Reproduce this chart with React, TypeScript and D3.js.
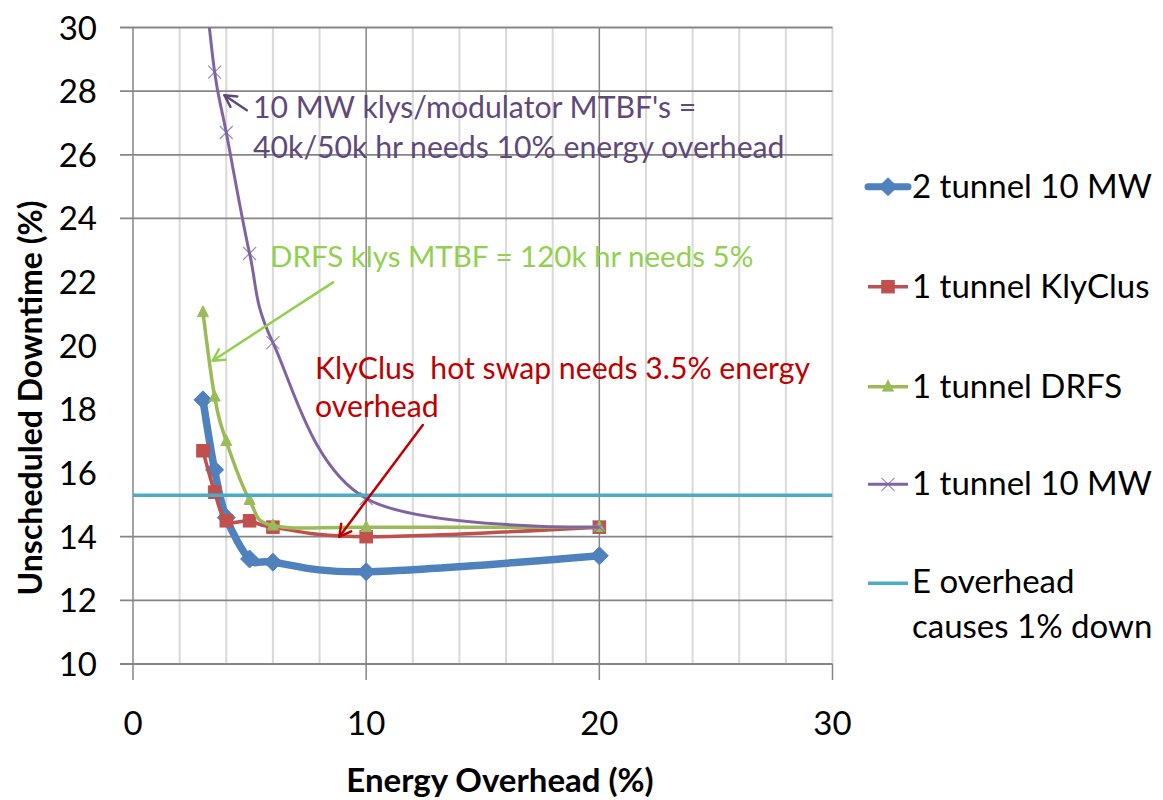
import React from 'react';
import * as d3 from 'd3';

// ---------- data ----------
const energyOverhead = [3, 3.5, 4, 5, 6, 10, 20];
const twoTunnel10MW = [18.3, 16.1, 14.6, 13.3, 13.2, 12.9, 13.4];
const oneTunnelKlyClus = [16.7, 15.4, 14.5, 14.5, 14.3, 14.0, 14.3];
const oneTunnelDRFS = [21.05, 18.4, 17.0, 15.15, 14.35, 14.3, 14.3];
const oneTunnel10MW = [32.0, 28.6, 26.7, 22.9, 20.1, 15.2, 14.3];
const eOverheadX = [0, 30];
const eOverheadY = [15.3, 15.3];

const seriesNames = ['2 tunnel 10 MW', '1 tunnel KlyClus', '1 tunnel DRFS', '1 tunnel 10 MW'];
const eOverheadName = ['E overhead', 'causes 1% down'];

const xTicks = [0, 10, 20, 30];
const xMinorGrid = [2, 4, 6, 8, 12, 14, 16, 18, 22, 24, 26, 28, 30];
const yTicks = [10, 12, 14, 16, 18, 20, 22, 24, 26, 28, 30];
const yGridShown = [10, 12, 14, 24, 26, 28, 30];

// annotations (data units)
const purpleNote = ['10 MW klys/modulator MTBF\'s =', '40k/50k hr needs 10% energy overhead'];
const purpleNoteAt = { x: 5.15, y: [27.15, 25.9] };
const purpleArrow = { from: [4.88, 27.4], to: [3.92, 27.87] };
const greenNote = 'DRFS klys MTBF = 120k hr needs 5%';
const greenNoteAt = { x: 5.88, y: 22.47 };
const greenArrow = { from: [8.58, 21.99], to: [3.42, 19.53] };
const redNote = ['KlyClus\u00a0\u00a0hot swap needs 3.5% energy', 'overhead'];
const redNoteAt = { x: 7.81, y: [18.97, 17.75] };
const redArrow = { from: [12.43, 17.51], to: [8.85, 14.0] };

// ---------- styling ----------
const FONT = "Lato, 'Open Sans', sans-serif";
const BLUE = '#4F81BD';
const RED = '#C0504D';
const GREEN = '#9BBB59';
const PURPLE = '#8064A2';
const CYAN = '#4BACC6';
const GRID_DARK = '#868686';
const GRID_LIGHT = '#D9D9D9';

const W = 1163;
const H = 800;
const left = 133;
const right = 832.5;
const top = 27.5;
const bottom = 664;

const x = d3.scaleLinear().domain([0, 30]).range([left, right]);
const y = d3.scaleLinear().domain([10, 30]).range([bottom, top]);

const lineGen = d3
  .line<[number, number]>()
  .x((d) => x(d[0]))
  .y((d) => y(d[1]))
  .curve(d3.curveCatmullRom.alpha(0));

const straight = d3
  .line<[number, number]>()
  .x((d) => x(d[0]))
  .y((d) => y(d[1]));

const zip = (xs: number[], ys: number[]) => xs.map((v, i) => [v, ys[i]] as [number, number]);

function Diamond({ cx, cy, r, color }: any) {
  return <path d={`M${cx},${cy - r}L${cx + r},${cy}L${cx},${cy + r}L${cx - r},${cy}Z`} fill={color} stroke={color} />;
}
function Square({ cx, cy, s, color }: any) {
  return <rect x={cx - s / 2} y={cy - s / 2} width={s} height={s} fill={color} stroke={color} />;
}
function Tri({ cx, cy, s, color }: any) {
  const h = s;
  return (
    <path
      d={`M${cx},${cy - h * 0.6}L${cx + s / 2},${cy + h * 0.4}L${cx - s / 2},${cy + h * 0.4}Z`}
      fill={color}
      stroke={color}
    />
  );
}
function XMark({ cx, cy, r, color }: any) {
  return (
    <path
      d={`M${cx - r},${cy - r}L${cx + r},${cy + r}M${cx - r},${cy + r}L${cx + r},${cy - r}`}
      stroke={color}
      strokeWidth={1.2}
      fill="none"
      opacity={0.75}
    />
  );
}

function Arrow({ from, to, color, width }: any) {
  const x1 = x(from[0]);
  const y1 = y(from[1]);
  const x2 = x(to[0]);
  const y2 = y(to[1]);
  const ang = Math.atan2(y2 - y1, x2 - x1);
  const len = 13;
  const spread = 0.5;
  const ax = x2 - len * Math.cos(ang - spread);
  const ay = y2 - len * Math.sin(ang - spread);
  const bx = x2 - len * Math.cos(ang + spread);
  const by = y2 - len * Math.sin(ang + spread);
  return (
    <g stroke={color} strokeWidth={width} fill="none" strokeLinecap="round" strokeLinejoin="round">
      <line x1={x1} y1={y1} x2={x2} y2={y2} />
      <path d={`M${ax},${ay}L${x2},${y2}L${bx},${by}`} />
    </g>
  );
}

export default function App() {
  const blue = zip(energyOverhead, twoTunnel10MW);
  const red = zip(energyOverhead, oneTunnelKlyClus);
  const green = zip(energyOverhead, oneTunnelDRFS);
  const purple = zip(energyOverhead, oneTunnel10MW);
  const cyan = zip(eOverheadX, eOverheadY);

  const legendX0 = 868;
  const legendX1 = 908;
  const legendMid = (legendX0 + legendX1) / 2;
  const legendTextX = 912;
  const legendRows = [186.7, 286.7, 386.7, 484.3, 583.3];
  const fs = 33;
  const noteFs = 30.2;

  return (
    <svg
      width={W}
      height={H}
      style={{ position: 'absolute', left: 0, top: 0, background: '#fff' }}
      fontFamily={FONT}
    >
      <defs>
        <clipPath id="plot">
          <rect x={left} y={top} width={right - left} height={bottom - top} />
        </clipPath>
      </defs>
      <rect x={0} y={0} width={W} height={H} fill="#fff" />

      {/* minor vertical gridlines */}
      {xMinorGrid.map((v) => (
        <line key={'mv' + v} x1={x(v)} x2={x(v)} y1={top} y2={bottom} stroke={GRID_LIGHT} strokeWidth={2} />
      ))}
      {/* major vertical gridlines + ticks */}
      {xTicks.map((v) => (
        <line
          key={'Mv' + v}
          x1={x(v)}
          x2={x(v)}
          y1={v === 0 || v === 30 ? bottom : top}
          y2={bottom + 16}
          stroke={GRID_DARK}
          strokeWidth={1.5}
        />
      ))}
      {/* horizontal gridlines */}
      {yGridShown.map((v) => (
        <line key={'h' + v} x1={left - 13} x2={right} y1={y(v)} y2={y(v)} stroke={GRID_DARK} strokeWidth={1.8} />
      ))}
      {/* y axis line */}
      <line x1={left} x2={left} y1={top} y2={bottom} stroke={GRID_DARK} strokeWidth={1.5} />

      {/* series */}
      <g clipPath="url(#plot)">
        <path d={lineGen(blue) || ''} fill="none" stroke={BLUE} strokeWidth={7.5} strokeLinejoin="round" />
        {blue.map((d, i) => (
          <Diamond key={'b' + i} cx={x(d[0])} cy={y(d[1])} r={9} color={BLUE} />
        ))}
        <path d={lineGen(red) || ''} fill="none" stroke={RED} strokeWidth={3.5} strokeLinejoin="round" />
        {red.map((d, i) => (
          <Square key={'r' + i} cx={x(d[0])} cy={y(d[1])} s={12.5} color={RED} />
        ))}
        <path d={lineGen(green) || ''} fill="none" stroke={GREEN} strokeWidth={3.5} strokeLinejoin="round" />
        {green.map((d, i) => (
          <Tri key={'g' + i} cx={x(d[0])} cy={y(d[1])} s={11} color={GREEN} />
        ))}
        <path d={lineGen(purple) || ''} fill="none" stroke={PURPLE} strokeWidth={3} strokeLinejoin="round" />
        {purple.map((d, i) => (
          <XMark key={'p' + i} cx={x(d[0])} cy={y(d[1])} r={6.5} color={PURPLE} />
        ))}
        <path d={straight(cyan) || ''} fill="none" stroke={CYAN} strokeWidth={3.5} />
      </g>

      {/* axis tick labels */}
      {yTicks.map((v) => (
        <text key={'yl' + v} x={97} y={y(v) + 12} textAnchor="end" fontSize={fs} fill="#000">
          {v}
        </text>
      ))}
      {xTicks.map((v) => (
        <text key={'xl' + v} x={x(v)} y={735} textAnchor="middle" fontSize={fs} fill="#000">
          {v}
        </text>
      ))}

      {/* axis titles */}
      <text x={500} y={792} textAnchor="middle" fontSize={fs} fontWeight="bold" fill="#000">
        Energy Overhead (%)
      </text>
      <text
        transform={`translate(42,398) rotate(-90)`}
        textAnchor="middle"
        fontSize={32}
        fontWeight="bold"
        fill="#000"
      >
        Unscheduled Downtime (%)
      </text>

      {/* annotations */}
      {purpleNote.map((t, i) => (
        <text key={'pn' + i} x={x(purpleNoteAt.x)} y={y(purpleNoteAt.y[i])} fontSize={noteFs} fill="#5F497A">
          {t}
        </text>
      ))}
      <Arrow from={purpleArrow.from} to={purpleArrow.to} color="#5F497A" width={2.5} />
      <text x={x(greenNoteAt.x)} y={y(greenNoteAt.y)} fontSize={noteFs - 0.7} fill="#92D050">
        {greenNote}
      </text>
      <Arrow from={greenArrow.from} to={greenArrow.to} color="#92D050" width={2.5} />
      {redNote.map((t, i) => (
        <text key={'rn' + i} x={x(redNoteAt.x)} y={y(redNoteAt.y[i])} fontSize={noteFs} fill="#C00000">
          {t}
        </text>
      ))}
      <Arrow from={redArrow.from} to={redArrow.to} color="#C00000" width={2.5} />

      {/* legend */}
      <g>
        <line x1={legendX0} x2={legendX1} y1={legendRows[0]} y2={legendRows[0]} stroke={BLUE} strokeWidth={7} strokeLinecap="round" />
        <Diamond cx={legendMid} cy={legendRows[0]} r={9} color={BLUE} />
        <line x1={legendX0} x2={legendX1} y1={legendRows[1]} y2={legendRows[1]} stroke={RED} strokeWidth={3.5} />
        <Square cx={legendMid} cy={legendRows[1]} s={12.5} color={RED} />
        <line x1={legendX0} x2={legendX1} y1={legendRows[2]} y2={legendRows[2]} stroke={GREEN} strokeWidth={3.5} />
        <Tri cx={legendMid} cy={legendRows[2]} s={11} color={GREEN} />
        <line x1={legendX0} x2={legendX1} y1={legendRows[3]} y2={legendRows[3]} stroke={PURPLE} strokeWidth={3} />
        <XMark cx={legendMid} cy={legendRows[3]} r={6.5} color={PURPLE} />
        <line x1={legendX0} x2={legendX1} y1={legendRows[4]} y2={legendRows[4]} stroke={CYAN} strokeWidth={3.5} />
        {seriesNames.map((n, i) => (
          <text key={'lg' + i} x={legendTextX} y={legendRows[i] + 11} fontSize={fs} fill="#000">
            {n}
          </text>
        ))}
        {eOverheadName.map((n, i) => (
          <text key={'lge' + i} x={legendTextX} y={legendRows[4] + 10 + i * 45} fontSize={fs} fill="#000">
            {n}
          </text>
        ))}
      </g>
    </svg>
  );
}
